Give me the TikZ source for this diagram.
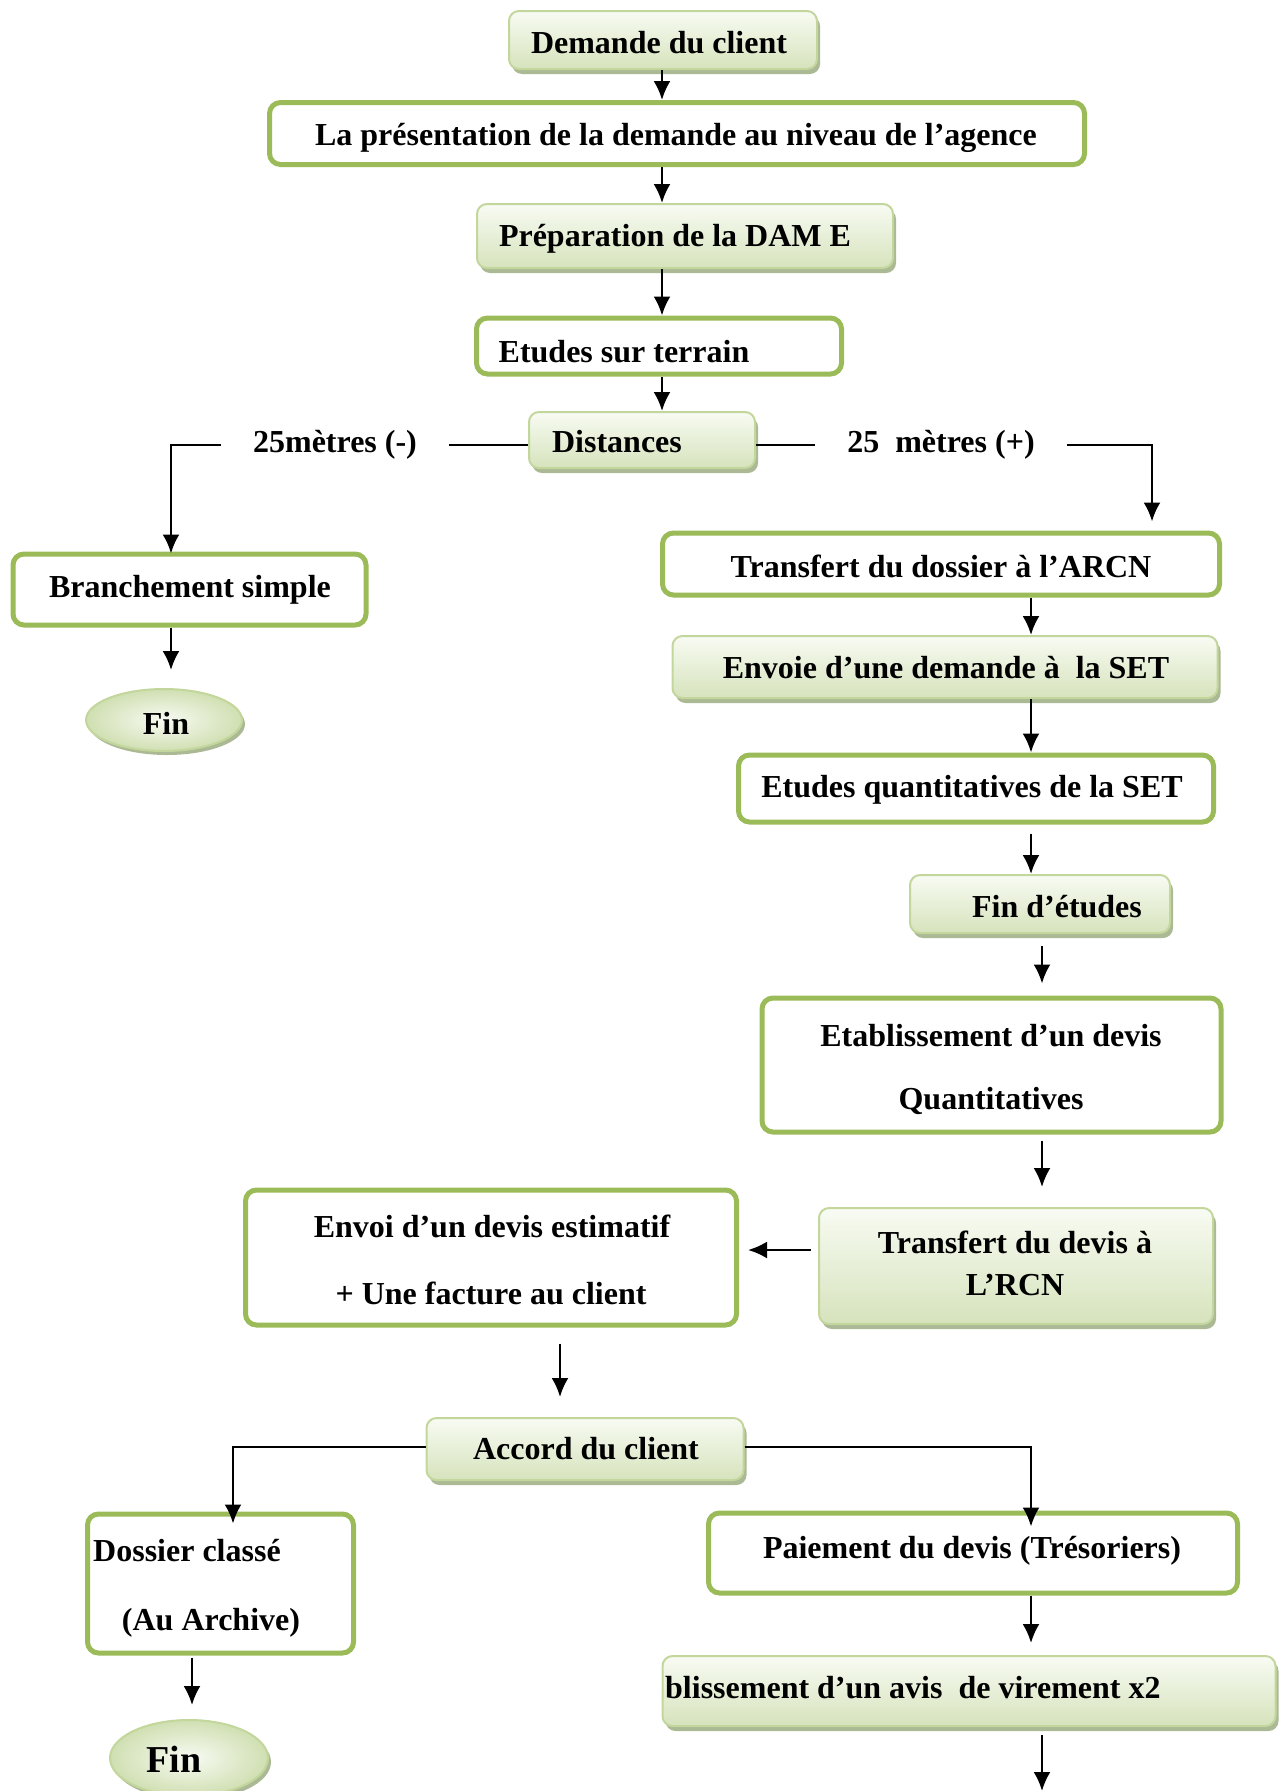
\documentclass[tikz,border=0pt]{standalone}
\usepackage{fontspec}
\setmainfont{Liberation Serif}
\usetikzlibrary{arrows.meta,shadows,shapes.geometric}

\definecolor{olive}{HTML}{9BBB59}
\definecolor{softtop}{HTML}{F8FBF3}
\definecolor{softbot}{HTML}{D6E3BC}
\definecolor{softline}{HTML}{C3D69B}
\definecolor{shade}{HTML}{A2B28A}

\begin{document}
\begin{tikzpicture}[x=1pt,y=-1pt,
  outlinebox/.style={draw=olive, line width=5pt, rounded corners=11pt, fill=white, inner sep=0pt},
  softbox/.style={draw=softline, line width=2pt, rounded corners=10pt,
    top color=softtop, bottom color=softbot, inner sep=0pt,
    drop shadow={shadow xshift=3pt, shadow yshift=-5pt, fill=shade, opacity=0.9}},
  finshape/.style={ellipse, draw=softline, line width=2pt, inner color=softtop, outer color=softbot!90!olive, inner sep=0pt,
    drop shadow={shadow xshift=3pt, shadow yshift=-4pt, fill=shade, opacity=0.9}},
  lbl/.style={font=\bfseries\fontsize{32}{38}\selectfont, inner sep=0pt, text height=21pt, text depth=7pt, yshift=-3pt},
  gaplbl/.style={lbl, inner xsep=32pt},
  arr/.style={line width=2.5pt, -{Latex[length=19pt,width=17pt]}},
  link/.style={line width=2.5pt}
]
\useasboundingbox (0,0) rectangle (1285,1791);

% ---- main column ----
\node[softbox, minimum width=308pt, minimum height=58pt] (demande) at (663,40) {};
\node[lbl] (demande-t) at (659,43) {Demande du client};

\node[outlinebox, minimum width=815pt, minimum height=62pt] (presentation) at (677,133.5) {};
\node[lbl] (presentation-t) at (676,135) {La présentation de la demande au niveau de l’agence};

\node[softbox, minimum width=416pt, minimum height=64pt] (preparation) at (685,236) {};
\node[lbl] (preparation-t) at (675,236) {Préparation de la DAM E};

\node[outlinebox, minimum width=365pt, minimum height=56pt] (terrain) at (659,346) {};
\node[lbl] (terrain-t) at (624,352) {Etudes sur terrain};

\node[softbox, minimum width=226pt, minimum height=56pt] (distances) at (642,440) {};
\node[lbl] (distances-t) at (617,442) {Distances};

% ---- short branch ----
\node[gaplbl] (moins) at (335,442) {25mètres (-)};
\node[outlinebox, minimum width=353pt, minimum height=71pt] (branchement) at (189.5,589.5) {};
\node[lbl] (branchement-t) at (190,587) {Branchement simple};
\node[finshape, minimum width=156pt, minimum height=62pt] (fin1) at (164,720) {};
\node[lbl] (fin1-t) at (166,724) {Fin};

% ---- long branch ----
\node[gaplbl] (plus) at (941,442) {25\hspace{0.5em}mètres (+)};
\node[outlinebox, minimum width=557pt, minimum height=62pt] (dossier) at (941,564) {};
\node[lbl] (dossier-t) at (941,567) {Transfert du dossier à l’ARCN};

\node[softbox, minimum width=545pt, minimum height=62pt] (envoie) at (945,667) {};
\node[lbl] (envoie-t) at (946,668) {Envoie d’une demande à \ la SET};

\node[outlinebox, minimum width=475pt, minimum height=67pt] (quant) at (976,788.5) {};
\node[lbl] (quant-t) at (972,787) {Etudes quantitatives de la SET};

\node[softbox, minimum width=260pt, minimum height=58pt] (finetudes) at (1040,904) {};
\node[lbl] (finetudes-t) at (1057,907) {Fin d’études};

\node[outlinebox, minimum width=459pt, minimum height=134pt] (etab) at (991.5,1065) {};
\node[lbl] (etab-t1) at (991,1036) {Etablissement d’un devis};
\node[lbl] (etab-t2) at (991,1099) {Quantitatives};

\node[softbox, minimum width=394pt, minimum height=116pt] (tdevis) at (1016,1266) {};
\node[lbl] (tdevis-t1) at (1015,1243) {Transfert du devis à};
\node[lbl] (tdevis-t2) at (1015,1285) {L’RCN};

\node[outlinebox, minimum width=491pt, minimum height=135pt] (envoi) at (491,1257.5) {};
\node[lbl] (envoi-t1) at (492,1227) {Envoi d’un devis estimatif};
\node[lbl] (envoi-t2) at (491,1294) {+ Une facture au client};

\node[softbox, minimum width=317pt, minimum height=62pt] (accord) at (585,1449) {};
\node[lbl] (accord-t) at (586,1449) {Accord du client};

\node[outlinebox, minimum width=266pt, minimum height=139pt] (classe) at (220.5,1583.5) {};
\node[lbl, anchor=west] (classe-t1) at (93,1551) {Dossier classé};
\node[lbl] (classe-t2) at (211,1620) {(Au Archive)};

\node[finshape, minimum width=158pt, minimum height=76pt] (fin2) at (189,1758) {};
\node[lbl, font=\bfseries\fontsize{38}{42}\selectfont] (fin2-t) at (174,1762) {Fin};

\node[outlinebox, minimum width=529pt, minimum height=80pt] (paiement) at (973,1553) {};
\node[lbl] (paiement-t) at (972,1548) {Paiement du devis (Trésoriers)};

\node[softbox, minimum width=613pt, minimum height=70pt] (avis) at (969,1691) {};
\node[lbl, anchor=west] (avis-t) at (665,1688) {blissement d’un avis \ de virement x2};

% ---- guide columns and free end ----
\coordinate (cmain) at (662,0);
\coordinate (cleft) at (171,0);
\coordinate (cright) at (1152,0);
\coordinate (ca) at (1031,0);
\coordinate (cb) at (1042,0);
\coordinate (cc) at (560,0);
\coordinate (cd) at (233,0);
\coordinate (ce) at (192,0);
\coordinate (bottomend) at (1042,1791);

% ---- connectors ----
\draw[arr] (demande.south -| cmain) -- (presentation.north -| cmain);
\draw[arr] (presentation.south -| cmain) -- (preparation.north -| cmain);
\draw[arr] (preparation.south -| cmain) -- (terrain.north -| cmain);
\draw[arr] (terrain.south -| cmain) -- (distances.north -| cmain);

\draw[link] (distances.west |- moins) -- (moins.east);
\draw[arr] (moins.west) -| ([yshift=-2pt]branchement.north -| cleft);
\draw[arr, shorten >=18pt] (branchement.south -| cleft) -- (fin1.north -| cleft);

\draw[link] (distances.east |- plus) -- (plus.west);
\draw[arr, shorten >=9pt] (plus.east) -| (dossier.north -| cright);

\draw[arr] (dossier.south -| ca) -- (envoie.north -| ca);
\draw[arr] (envoie.south -| ca) -- (quant.north -| ca);
\draw[arr, shorten <=9pt] (quant.south -| ca) -- (finetudes.north -| ca);
\draw[arr, shorten <=12pt, shorten >=12pt] (finetudes.south -| cb) -- (etab.north -| cb);
\draw[arr, shorten <=6pt, shorten >=20pt] (etab.south -| cb) -- (tdevis.north -| cb);
\draw[arr, shorten <=7pt, shorten >=9pt] (tdevis.west |- 0,1250) -- (envoi.east |- 0,1250);
\draw[arr, shorten <=16pt, shorten >=20pt] (envoi.south -| cc) -- (accord.north -| cc);

\draw[arr] (accord.west |- 0,1447) -| ([yshift=-12pt]classe.north -| cd);
\draw[arr] (accord.east |- 0,1447) -| ([yshift=-16pt]paiement.north -| ca);
\draw[arr, shorten <=2pt, shorten >=14pt] (classe.south -| ce) -- (fin2.north -| ce);
\draw[arr, shorten >=12pt] (paiement.south -| ca) -- (avis.north -| ca);
\draw[arr, shorten <=8pt] (avis.south -| cb) -- (bottomend);
\end{tikzpicture}
\end{document}
